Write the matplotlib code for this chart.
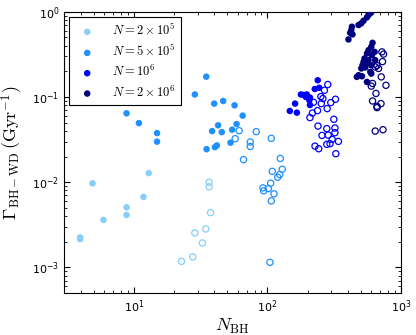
import matplotlib
matplotlib.use('Agg')
import matplotlib.pyplot as plt
import numpy as np

# N = 2e5
n2e5_fill_x = [3.96, 3.96, 4.9, 5.92, 8.81, 8.81, 11.8, 12.9]
n2e5_fill_y = [2.25e-3, 2.15e-3, 9.7e-3, 3.61e-3, 5.08e-3, 4.13e-3, 6.73e-3, 0.0128]
n2e5_open_x = [22.7, 27.6, 28.6, 32.6, 34.5, 37.5, 36.6, 36.6]
n2e5_open_y = [1.18e-3, 1.33e-3, 2.54e-3, 1.94e-3, 2.83e-3, 4.40e-3, 0.0100, 8.83e-3]

# N = 5e5
n5e5_fill_x = [8.81, 10.9, 14.9, 14.9, 28.6, 34.8, 39.9, 46.6, 56.7, 65.2,
               42.7, 38.5, 45.5, 54.4, 58.7, 52.9, 35.0, 40.4, 41.8]
n5e5_fill_y = [0.0643, 0.0494, 0.0377, 0.0299, 0.107, 0.173, 0.0836, 0.0897, 0.0798, 0.0604,
               0.0465, 0.0398, 0.0387, 0.0413, 0.0481, 0.0291, 0.0244, 0.0258, 0.0270]
n5e5_open_x = [61.4, 57.3, 74.3, 74.3, 82.4, 66.2, 106.8, 124.8, 129, 108.6,
               123.5, 119.3, 105.7, 92.5, 93.6, 101.4, 111.9, 106.8, 104.4]
n5e5_open_y = [0.0402, 0.0324, 0.0296, 0.0263, 0.0392, 0.0184, 0.0327, 0.0190, 0.0142, 0.0134,
               0.0123, 0.01145, 9.73e-3, 8.59e-3, 7.92e-3, 8.43e-3, 7.31e-3, 6.04e-3, 1.15e-3]

# N = 1e6
n1e6_fill_x = [238, 226, 244, 178, 187, 197, 194, 208, 206, 161, 208, 147, 166]
n1e6_fill_y = [0.157, 0.124, 0.128, 0.107, 0.1056, 0.107, 0.100, 0.0984, 0.0914, 0.0836,
               0.0805, 0.0685, 0.0655]
n1e6_open_x = [283, 267, 251, 260, 323, 221, 253, 298, 237, 217, 280, 208, 314,
               239, 278, 320, 256, 285, 320, 305, 340, 227, 242, 278, 294, 325]
n1e6_open_y = [0.140, 0.120, 0.101, 0.0958, 0.094, 0.0866, 0.0836, 0.0859, 0.0692, 0.0648,
               0.0730, 0.0573, 0.0547, 0.0456, 0.0425, 0.0432, 0.0354, 0.0357, 0.0381,
               0.0318, 0.0301, 0.0265, 0.0247, 0.0278, 0.0283, 0.0216]

# N = 2e6
n2e6_fill_x = [596, 571, 556, 524, 504, 481, 429, 424, 416, 433, 404,
               612, 599, 571, 634, 556, 606, 533, 571, 641, 546, 515, 599,
               524, 504, 540, 481, 510, 467, 589, 599, 556]
n2e6_fill_y = [0.973, 0.915, 0.859, 0.784, 0.731, 0.698, 0.667, 0.609, 0.566, 0.542, 0.473,
               0.432, 0.388, 0.354, 0.338, 0.324, 0.309, 0.283, 0.270, 0.270, 0.247, 0.236, 0.236,
               0.258, 0.216, 0.222, 0.180, 0.175, 0.172, 0.197, 0.188, 0.150]
n2e6_open_x = [719, 740, 727, 661, 679, 641, 711, 771, 612, 599, 649, 612, 708, 661, 661, 641, 733]
n2e6_open_y = [0.338, 0.318, 0.260, 0.233, 0.216, 0.225, 0.172, 0.137, 0.144, 0.134, 0.110,
               0.0897, 0.0836, 0.0777, 0.075, 0.0398, 0.0413]

labels = [r'$N=2\times10^5$', r'$N=5\times10^5$', r'$N=10^6$', r'$N=2\times10^6$']
colors = ['#87CEFA', '#1E90FF', '#0000FF', '#000080']

plt.rcParams['xtick.direction'] = 'in'
plt.rcParams['ytick.direction'] = 'in'
plt.rcParams['xtick.top'] = True
plt.rcParams['ytick.right'] = True

fig = plt.figure(figsize=(4.16, 3.35), dpi=100)
ax = fig.add_axes([0.154, 0.125, 0.81, 0.84])

series = [
    (n2e5_fill_x, n2e5_fill_y, n2e5_open_x, n2e5_open_y),
    (n5e5_fill_x, n5e5_fill_y, n5e5_open_x, n5e5_open_y),
    (n1e6_fill_x, n1e6_fill_y, n1e6_open_x, n1e6_open_y),
    (n2e6_fill_x, n2e6_fill_y, n2e6_open_x, n2e6_open_y),
]
for (fx, fy, ox, oy), c, lab in zip(series, colors, labels):
    ax.scatter(fx, fy, s=22, color=c, edgecolors='none', label=lab, zorder=3)
    ax.scatter(ox, oy, s=20, facecolors='none', edgecolors=c, linewidths=0.9, zorder=3)

ax.set_xscale('log')
ax.set_yscale('log')
ax.set_xlim(3, 1000)
ax.set_ylim(5e-4, 1)

ax.tick_params(which='major', length=4, width=0.8, labelsize=8)
ax.tick_params(which='minor', length=2, width=0.6)
for sp in ax.spines.values():
    sp.set_linewidth(0.8)

xl = ax.set_xlabel(r'$N_{\rm BH}$', fontsize=13, labelpad=2)
yl = ax.set_ylabel(r'$\Gamma_{\rm BH-WD}\,({\rm Gyr}^{-1})$', fontsize=13, labelpad=5)
xl.set_math_fontfamily('cm')
yl.set_math_fontfamily('cm')

leg = ax.legend(loc='upper left', fontsize=9, fancybox=False, edgecolor='black',
                framealpha=1, borderaxespad=0.4, handletextpad=1.0, labelspacing=0.42,
                borderpad=0.45, scatterpoints=1)
leg.get_frame().set_linewidth(0.8)
for t in leg.get_texts():
    t.set_math_fontfamily('cm')

fig.savefig('out.png', dpi=100)
